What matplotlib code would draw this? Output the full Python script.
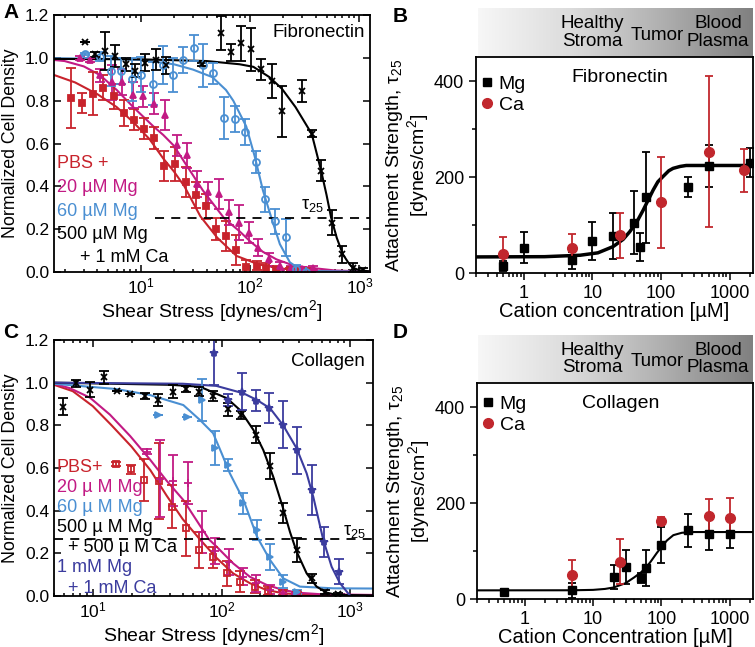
import numpy as np
import matplotlib.pyplot as plt
from matplotlib.lines import Line2D
from matplotlib.colors import LinearSegmentedColormap
from matplotlib.ticker import FixedLocator, LogLocator, NullFormatter

plt.rcParams['font.family'] = ['Liberation Sans', 'DejaVu Sans']
plt.rcParams['mathtext.fontset'] = 'custom'
plt.rcParams['mathtext.rm'] = 'Liberation Sans'
plt.rcParams['mathtext.it'] = 'Liberation Sans'
plt.rcParams['axes.linewidth'] = 1.3

RED = '#c8232c'
MAG = '#c21a84'
BLUE = '#4a8fd2'
NAVY = '#3b3c9e'

# ---------- panel A : fibronectin detachment ----------
a_red_x = [2.29, 2.9, 3.66, 4.49, 5.66, 6.99, 8.57, 10.6, 13.2, 16.3, 20.5, 25.6, 32, 39, 48.5, 60, 74, 92.5, 116, 141, 174, 230, 290, 360]
a_red_y = [0.814, 0.789, 0.833, 0.861, 0.82, 0.744, 0.711, 0.669, 0.625, 0.497, 0.505, 0.42, 0.36, 0.306, 0.2, 0.166, 0.102, 0.025, 0.03, 0.02, 0.012, 0.01, 0.005, 0.005]
a_red_e = [0.14, 0.045, 0.1, 0.06, 0.06, 0.06, 0.05, 0.05, 0.05, 0.07, 0.08, 0.07, 0.06, 0.06, 0.05, 0.07, 0.07, 0.03, 0.02, 0.02, 0.01, 0.01, 0.01, 0.01]
a_mag_x = [2.78, 3.45, 4.2, 5.4, 6.65, 8.4, 10.5, 13.1, 16.6, 21.2, 26.2, 32.4, 41.3, 51.8, 63.8, 79.4, 98, 118, 149, 187, 235, 300, 378]
a_mag_y = [1.0, 0.99, 0.919, 0.885, 0.888, 0.825, 0.82, 0.786, 0.731, 0.591, 0.544, 0.411, 0.372, 0.364, 0.278, 0.231, 0.184, 0.114, 0.059, 0.028, 0.02, 0.015, 0.02]
a_mag_e = [0.01, 0.01, 0.03, 0.08, 0.06, 0.06, 0.05, 0.05, 0.07, 0.05, 0.06, 0.06, 0.05, 0.07, 0.06, 0.08, 0.05, 0.04, 0.03, 0.02, 0.01, 0.01, 0.01]
a_blu_x = [3.1, 4.2, 5.3, 6.56, 8.2, 10.1, 12.8, 15.8, 19.5, 24.4, 30.5, 37.2, 45.9, 57.5, 72.5, 90, 112, 138, 170, 212, 261, 323]
a_blu_y = [1.016, 1.005, 0.938, 0.938, 0.899, 0.922, 0.88, 0.966, 0.919, 0.989, 1.047, 0.966, 0.927, 0.719, 0.716, 0.653, 0.514, 0.339, 0.236, 0.162, 0.015, 0.0]
a_blu_e = [0.005, 0.02, 0.07, 0.06, 0.1, 0.08, 0.1, 0.09, 0.08, 0.06, 0.06, 0.1, 0.05, 0.1, 0.06, 0.06, 0.05, 0.06, 0.06, 0.087, 0.02, 0.02]
a_blk_x = [3.07, 3.8, 4.65, 5.8, 7.25, 8.9, 10.9, 13.7, 17.1, 35.9, 53.6, 66.5, 82, 101, 125, 157, 194, 299, 369, 449, 562, 694, 875, 1080]
a_blk_y = [1.072, 1.016, 1.031, 1.008, 0.97, 0.939, 0.977, 0.992, 0.966, 0.969, 1.117, 1.025, 1.067, 1.039, 0.946, 0.892, 0.75, 0.845, 0.646, 0.473, 0.231, 0.083, 0.02, 0.008]
a_blk_e = [0.0, 0.01, 0.09, 0.05, 0.03, 0.03, 0.04, 0.05, 0.04, 0.005, 0.08, 0.04, 0.08, 0.1, 0.05, 0.08, 0.12, 0.05, 0.015, 0.05, 0.06, 0.04, 0.02, 0.01]

# fitted curves (x, y)
a_red_fx = [1.6, 2.5, 4, 6, 8.5, 12, 16, 20, 25, 35, 50, 75, 120, 200, 400, 1250]
a_red_fy = [0.92, 0.885, 0.83, 0.77, 0.70, 0.62, 0.53, 0.47, 0.40, 0.26, 0.16, 0.075, 0.035, 0.015, 0.005, 0.002]
a_mag_fx = [1.6, 2, 3, 4.2, 6, 8.5, 13, 16, 20, 26, 37, 58, 80, 99, 130, 174, 250, 352, 600, 1250]
a_mag_fy = [0.99, 0.985, 0.96, 0.92, 0.85, 0.77, 0.68, 0.64, 0.59, 0.50, 0.38, 0.25, 0.19, 0.145, 0.095, 0.059, 0.03, 0.02, 0.007, 0.002]
a_blu_fx = [1.6, 5, 10, 20, 30, 45, 60, 70, 92, 110, 131, 157, 187, 231, 285, 400, 1250]
a_blu_fy = [0.998, 0.995, 0.99, 0.97, 0.945, 0.91, 0.85, 0.80, 0.68, 0.54, 0.38, 0.25, 0.13, 0.045, 0.013, 0.004, 0.001]
a_blk_fx = [1.6, 10, 40, 80, 107, 150, 195, 260, 366, 446, 500, 550, 620, 705, 800, 870, 1000, 1250]
a_blk_fy = [0.995, 0.993, 0.985, 0.97, 0.958, 0.91, 0.856, 0.77, 0.645, 0.473, 0.36, 0.255, 0.16, 0.083, 0.04, 0.02, 0.008, 0.003]

# ---------- panel C : collagen detachment ----------
c_red_x = [15.1, 19.7, 25, 32.9, 41, 52.7, 67.2, 86.4, 110, 139, 182, 231, 299, 383]
c_red_y = [0.619, 0.594, 0.544, 0.539, 0.419, 0.317, 0.216, 0.181, 0.106, 0.067, 0.044, 0.025, 0.016, 0.01]
c_red_e = [0.01, 0.02, 0.1, 0.18, 0.1, 0.13, 0.085, 0.05, 0.06, 0.05, 0.03, 0.02, 0.01, 0.01]
c_mag_x = [26.2, 33, 42, 55, 70, 89, 114, 146, 186, 236, 300, 380]
c_mag_y = [0.677, 0.55, 0.54, 0.53, 0.30, 0.21, 0.16, 0.09, 0.06, 0.03, 0.015, 0.01]
c_mag_e = [0.01, 0.18, 0.12, 0.1, 0.1, 0.06, 0.06, 0.04, 0.04, 0.02, 0.01, 0.005]
c_blu_x = [32.3, 53.6, 70.2, 89, 113, 148, 188, 238, 301, 383]
c_blu_y = [0.85, 0.84, 0.919, 0.692, 0.614, 0.435, 0.309, 0.184, 0.067, 0.02]
c_blu_e = [0, 0, 0.1, 0.08, 0.03, 0.05, 0.047, 0.06, 0.03, 0.01]
c_blk_x = [5.83, 7.4, 9.5, 12.2, 15.5, 19.4, 25.4, 32.3, 41.7, 53, 67.2, 86.3, 111.5, 141.5, 184, 238, 301, 383, 501, 636, 800]
c_blk_y = [0.888, 0.997, 0.966, 1.025, 0.961, 0.945, 0.938, 0.919, 0.958, 0.969, 0.958, 0.938, 0.875, 0.849, 0.755, 0.61, 0.388, 0.216, 0.083, 0.02, 0.01]
c_blk_e = [0.04, 0.015, 0.035, 0.03, 0.0, 0.0, 0.015, 0.03, 0.03, 0.015, 0.02, 0.025, 0.03, 0.02, 0.04, 0.06, 0.047, 0.057, 0.02, 0.01, 0.005]
c_nav_x = [87.3, 113, 143, 184, 233, 301, 387, 501, 623, 816]
c_nav_y = [1.138, 0.919, 0.958, 0.916, 0.88, 0.802, 0.684, 0.497, 0.255, 0.114]
c_nav_e = [0.15, 0.03, 0.085, 0.05, 0.07, 0.11, 0.11, 0.117, 0.07, 0.06]

c_red_fx = [5, 7, 10, 14, 20, 28, 37.5, 50, 68, 92, 123, 166, 224, 300, 450, 1500]
c_red_fy = [0.99, 0.96, 0.89, 0.80, 0.70, 0.59, 0.47, 0.36, 0.265, 0.177, 0.106, 0.06, 0.028, 0.013, 0.005, 0.002]
c_mag_fx = [5, 6.65, 9.5, 13.6, 19.5, 27.8, 37.5, 50.5, 68, 80, 92, 123, 166, 224, 301, 400, 600, 1500]
c_mag_fy = [0.995, 0.974, 0.93, 0.85, 0.75, 0.64, 0.54, 0.45, 0.33, 0.265, 0.23, 0.153, 0.09, 0.052, 0.028, 0.015, 0.008, 0.005]
c_blu_fx = [5, 15.3, 27.8, 50.5, 68, 86, 100, 116, 148, 188, 200, 238, 301, 406, 738, 1500]
c_blu_fy = [0.995, 0.97, 0.942, 0.895, 0.825, 0.763, 0.67, 0.575, 0.45, 0.28, 0.25, 0.169, 0.083, 0.044, 0.036, 0.035]
c_blk_fx = [5, 40, 68, 110, 139, 177, 211, 252, 301, 340, 383, 458, 547, 654, 783, 1500]
c_blk_fy = [1.0, 0.99, 0.981, 0.927, 0.872, 0.778, 0.684, 0.559, 0.41, 0.30, 0.208, 0.106, 0.044, 0.016, 0.005, 0.003]
c_nav_fx = [5, 50, 91, 148, 188, 238, 301, 383, 458, 515, 617, 716, 831, 1000]
c_nav_fy = [1.0, 0.995, 0.985, 0.95, 0.919, 0.88, 0.80, 0.692, 0.575, 0.466, 0.2625, 0.137, 0.06, 0.0]

# ---------- panel B : fibronectin attachment strength ----------
b_mg_x = [0.5, 1, 5, 10, 20, 40, 50, 60, 250, 500, 2000]
b_mg_y = [14.7, 53, 26.5, 67, 77, 105, 54, 158, 180, 223, 230]
b_mg_e = [10, 33, 18, 39, 48, 66, 29, 95, 21, 44, 31]
b_ca_x = [0.5, 5, 25, 100, 500, 1600]
b_ca_y = [40.5, 53, 79, 147, 253, 214]
b_ca_e = [34, 29, 47, 95, 158, 45]
b_fx = [0.2, 2, 6.6, 12, 20, 28, 35, 45, 55, 65, 77, 90, 107, 130, 150, 190, 233, 2200]
b_fy = [33.5, 34, 37, 42, 55, 70, 86, 108, 131, 152, 173, 190, 201, 213, 218, 222, 224, 224]

# ---------- panel D : collagen attachment strength ----------
d_mg_x = [0.5, 5, 20, 30, 50, 60, 100, 250, 500, 1000]
d_mg_y = [13.9, 18, 46, 67, 44, 65, 112, 143, 136, 136]
d_mg_e = [6, 15, 25, 36, 10, 38, 37, 35, 33, 30]
d_ca_x = [5, 25, 100, 500, 1000]
d_ca_y = [50.7, 78, 163, 172, 169]
d_ca_e = [31, 46, 8, 37, 42]
d_fx = [0.2, 5, 10, 15, 20, 30, 40, 50, 60, 70, 86, 100, 121, 150, 200, 300, 2200]
d_fy = [18, 18.2, 19, 21, 24, 33, 45, 55, 66, 78, 96, 108, 122, 133, 138, 139.5, 139.5]

W, H = 755, 647
fig = plt.figure(figsize=(W / 100, H / 100), dpi=100)


def box(l, t, r, b):
    return [l / W, 1 - b / H, (r - l) / W, (b - t) / H]


def shear_axes(rect, xlim):
    ax = fig.add_axes(rect)
    ax.set_xscale('log')
    ax.set_xlim(*xlim)
    ax.set_ylim(0, 1.2)
    ax.set_yticks(np.arange(0, 1.21, 0.2))
    ax.set_yticklabels(['%.1f' % v for v in np.arange(0, 1.21, 0.2)])
    ax.tick_params(which='both', direction='in', top=True, right=True, labelsize=12.5, width=1.1)
    ax.tick_params(which='major', length=5)
    ax.tick_params(which='minor', length=2.5)
    ax.set_xlabel('Shear Stress [dynes/cm$^2$]', fontsize=14, labelpad=1)
    ax.set_ylabel('Normalized Cell Density', fontsize=12.8, labelpad=4)
    return ax


def pts(ax, x, y, e, color, marker, ms=4.5, mfc=None):
    ax.errorbar(x, y, yerr=e, fmt=marker, color=color, ms=ms, mfc=mfc if mfc else color,
                mew=1.3, capsize=3.5, elinewidth=1.3, capthick=1.3, clip_on=True)


# panel A
axA = shear_axes(box(54, 15, 370, 272), (1.6, 1250))
axA.plot(a_red_fx, a_red_fy, color=RED, lw=1.5)
axA.plot(a_mag_fx, a_mag_fy, color=MAG, lw=1.5)
axA.plot(a_blu_fx, a_blu_fy, color=BLUE, lw=1.5)
axA.plot(a_blk_fx, a_blk_fy, color='k', lw=1.5)
pts(axA, a_red_x, a_red_y, a_red_e, RED, 's', 4)
pts(axA, a_mag_x, a_mag_y, a_mag_e, MAG, '^', 5)
pts(axA, a_blu_x, a_blu_y, a_blu_e, BLUE, 'o', 5, 'none')
pts(axA, a_blk_x, a_blk_y, a_blk_e, 'k', 'x', 5)
axA.plot([13.4, 1250], [0.25, 0.25], 'k--', lw=1.3, dashes=(5, 4))
axA.text(290, 0.31, r'$\mathregular{\tau_{25}}$', fontsize=13, ha='left', va='center')
axA.text(0.985, 0.965, 'Fibronectin', transform=axA.transAxes, ha='right', va='top', fontsize=13.5)
a_leg = [('PBS +', RED, 0), ('20 µM Mg', MAG, 0), ('60 µM Mg', BLUE, 0),
         ('500 µM Mg', 'k', 0), ('+ 1 mM Ca', 'k', 23)]
for i, (t, c, dx) in enumerate(a_leg):
    fig.text((57 + dx) / W, 1 - (164 + 23.5 * i) / H, t, color=c, fontsize=13, va='center')

# panel C
axC = shear_axes(box(54, 340, 373, 596), (5, 1500))
axC.plot(c_red_fx, c_red_fy, color=RED, lw=1.5)
axC.plot(c_mag_fx, c_mag_fy, color=MAG, lw=1.5)
axC.plot(c_blu_fx, c_blu_fy, color=BLUE, lw=1.5)
axC.plot(c_blk_fx, c_blk_fy, color='k', lw=1.5)
axC.plot(c_nav_fx, c_nav_fy, color=NAVY, lw=1.5)
pts(axC, c_red_x, c_red_y, c_red_e, RED, 's', 4, 'none')
pts(axC, c_mag_x, c_mag_y, c_mag_e, MAG, '+', 6)
pts(axC, c_blu_x, c_blu_y, c_blu_e, BLUE, '>', 5)
pts(axC, c_blk_x, c_blk_y, c_blk_e, 'k', 'x', 4.5)
pts(axC, c_nav_x, c_nav_y, c_nav_e, NAVY, '*', 6)
axC.axhline(0.265, color='k', ls='--', lw=1.3, dashes=(5, 4))
axC.text(877, 0.30, r'$\mathregular{\tau_{25}}$', fontsize=13, ha='left', va='center')
axC.text(0.975, 0.95, 'Collagen', transform=axC.transAxes, ha='right', va='top', fontsize=13.5)
c_leg = [('PBS+', RED, 0), ('20 µ M Mg', MAG, 0), ('60 µ M Mg', BLUE, 0),
         ('500 µ M Mg', 'k', 0), ('+ 500 µ M Ca', 'k', 11), ('1 mM Mg', NAVY, 0),
         ('+ 1 mM Ca', NAVY, 11)]
for i, (t, c, dx) in enumerate(c_leg):
    fig.text((57 + dx) / W, 1 - (467 + 20.2 * i) / H, t, color=c, fontsize=13, va='center')


def strength_axes(rect, xlabel, title, mg, ca, fit, fit_lw, leg_y):
    ax = fig.add_axes(rect)
    ax.set_xscale('log')
    ax.set_xlim(0.2, 2200)
    ax.set_ylim(0, 450)
    ax.set_yticks([0, 200, 400])
    ax.yaxis.set_minor_locator(FixedLocator([100, 300]))
    ax.xaxis.set_major_locator(FixedLocator([1, 10, 100, 1000]))
    ax.set_xticklabels(['1', '10', '100', '1000'])
    ax.xaxis.set_minor_locator(LogLocator(base=10, subs=np.arange(2, 10)))
    ax.xaxis.set_minor_formatter(NullFormatter())
    ax.tick_params(which='both', direction='out', top=False, right=False, labelsize=13, width=1.1)
    ax.tick_params(which='major', length=5)
    ax.tick_params(which='minor', length=3)
    ax.set_xlabel(xlabel, fontsize=14.5, labelpad=0)
    ax.set_ylabel('Attachment Strength, ' + r'$\mathregular{\tau_{25}}$' + '\n[dynes/cm$^2$]',
                  fontsize=14, labelpad=2, linespacing=1.0)
    ax.plot(fit[0], fit[1], color='k', lw=fit_lw)
    ax.errorbar(mg[0], mg[1], yerr=mg[2], fmt='s', color='k', ms=6, capsize=3, elinewidth=1.3, capthick=1.3)
    ax.errorbar(ca[0], ca[1], yerr=ca[2], fmt='o', color='#c1272d', ms=7, capsize=3, elinewidth=1.3, capthick=1.3)
    hs = [Line2D([], [], marker='s', color='k', ls='none', ms=6),
          Line2D([], [], marker='o', color='#c1272d', ls='none', ms=7)]
    ax.legend(hs, ['Mg', 'Ca'], loc='center left', bbox_to_anchor=(0.012, leg_y), frameon=False,
              fontsize=14, handletextpad=0.2, handlelength=0.8, labelspacing=0.18,
              borderaxespad=0, borderpad=0)
    ax.text(0.52, 0.907, title, transform=ax.transAxes, ha='center', va='center', fontsize=14)
    return ax


def band(l, t, r, b):
    bx = fig.add_axes(box(l, t, r, b))
    cmap = LinearSegmentedColormap.from_list('g', ['#f7f7f7', '#dcdcdc', '#b0b0b0', '#808080'])
    bx.imshow(np.linspace(0, 1, 256)[None, :], aspect='auto', cmap=cmap, extent=[0, 1, 0, 1])
    bx.set_axis_off()
    xc = lambda p: (p - l) / (r - l)
    bx.text(xc(592), 0.5, 'Healthy\nStroma', ha='center', va='center', fontsize=13.5, linespacing=1.0)
    bx.text(xc(657), 0.44, 'Tumor', ha='center', va='center', fontsize=13.5)
    bx.text(xc(718), 0.5, 'Blood\nPlasma', ha='center', va='center', fontsize=13.5, linespacing=1.0)


band(478, 8, 753, 57)
strength_axes(box(476, 57, 753, 273), 'Cation concentration [µM]', 'Fibronectin',
              (b_mg_x, b_mg_y, b_mg_e), (b_ca_x, b_ca_y, b_ca_e), (b_fx, b_fy), 2.5, 0.826)
band(478, 335, 753, 383)
strength_axes(box(477, 383, 753, 599), 'Cation Concentration [µM]', 'Collagen',
              (d_mg_x, d_mg_y, d_mg_e), (d_ca_x, d_ca_y, d_ca_e), (d_fx, d_fy), 1.5, 0.854)

for lab, x, y in [('A', 3, 12), ('B', 393, 17), ('C', 3, 333), ('D', 393, 333)]:
    fig.text(x / W, 1 - y / H, lab, fontsize=15, fontweight='bold', va='center')

fig.savefig('out.png', dpi=100)
